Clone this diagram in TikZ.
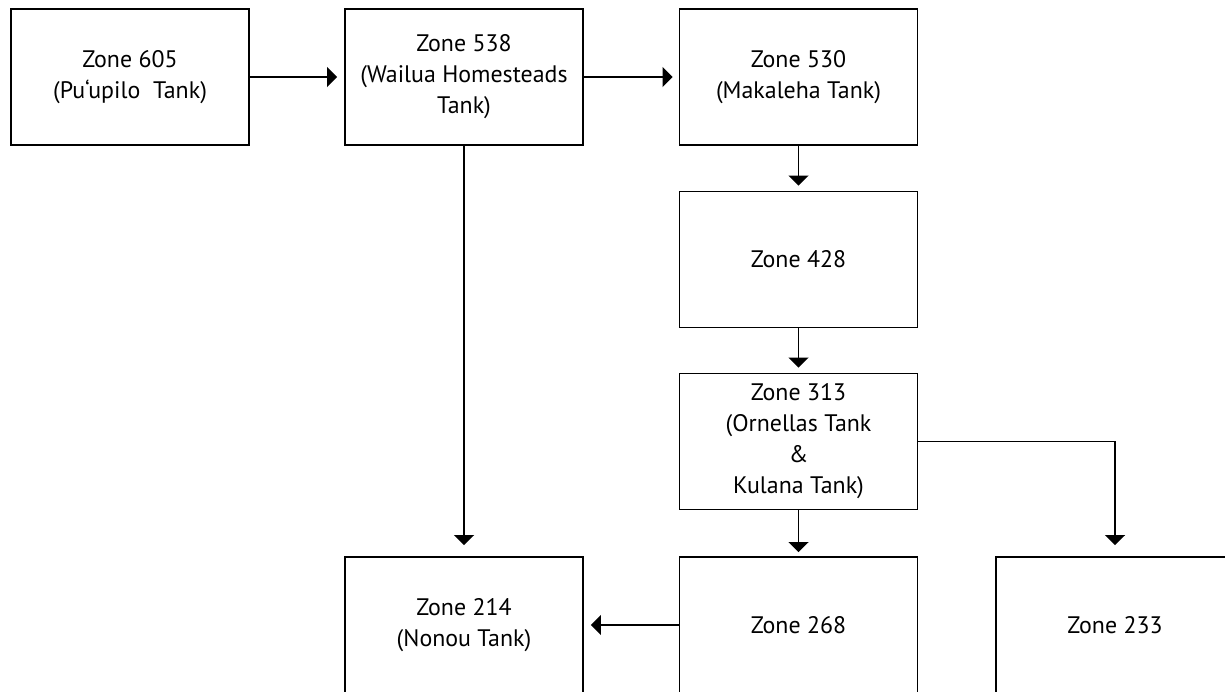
\documentclass[tikz,border=0pt]{standalone}
\usepackage{fontspec}
\setmainfont{PT Sans}
\usetikzlibrary{arrows.meta,positioning}
\tikzset{
  zone/.style={draw, line width=1.1pt, minimum width=4.76cm, minimum height=2.72cm,
    align=center, font=\fontsize{13.6}{17.6}\selectfont, inner sep=2pt},
  flow/.style={line width=1.1pt, -{Triangle[width=0.4cm,length=0.2cm]}}
}

\begin{document}
\begin{tikzpicture}
        \useasboundingbox (0,0) rectangle (24.5,-13.82);
        \clip (0,0) rectangle (24.5,-13.82);
        % zones
        \node[zone] (z605) at (2.6,-1.54) {Zone 605\\(Pu‘upilo\ \ Tank)};
        \node[zone] (z538) at (9.28,-1.54) {Zone 538\\(Wailua Homesteads\\Tank)};
        \node[zone] (z530) at (15.97,-1.54) {Zone 530\\(Makaleha Tank)};
        \node[zone] (z428) at (15.97,-5.19) {Zone 428};
        \node[zone] (z313) at (15.97,-8.83) {Zone 313\\(Ornellas Tank\\\&\\Kulana Tank)};
        \node[zone] (z214) at (9.28,-12.5) {Zone 214\\(Nonou Tank)};
        \node[zone] (z268) at (15.97,-12.5) {Zone 268};
        \node[zone] (z233) at (22.3,-12.5) {Zone 233};

        \draw[flow, shorten >=0.14cm](z605)--(z538);
        \draw[flow, shorten >=0.12cm](z538)--(z530);
        \draw[flow, shorten >=0.22cm](z538)--(z214);
        \draw[flow, shorten >=0.1cm](z530)--(z428);
        \draw[flow, shorten >=0.1cm](z428)--(z313);
        \draw[flow, shorten >=0.08cm](z313)--(z268);
        \draw[flow, shorten >=0.22cm](z313.east)-|(z233.north);
        \draw[flow, shorten >=0.14cm](z268)--(z214);
    \end{tikzpicture}
\end{document}
